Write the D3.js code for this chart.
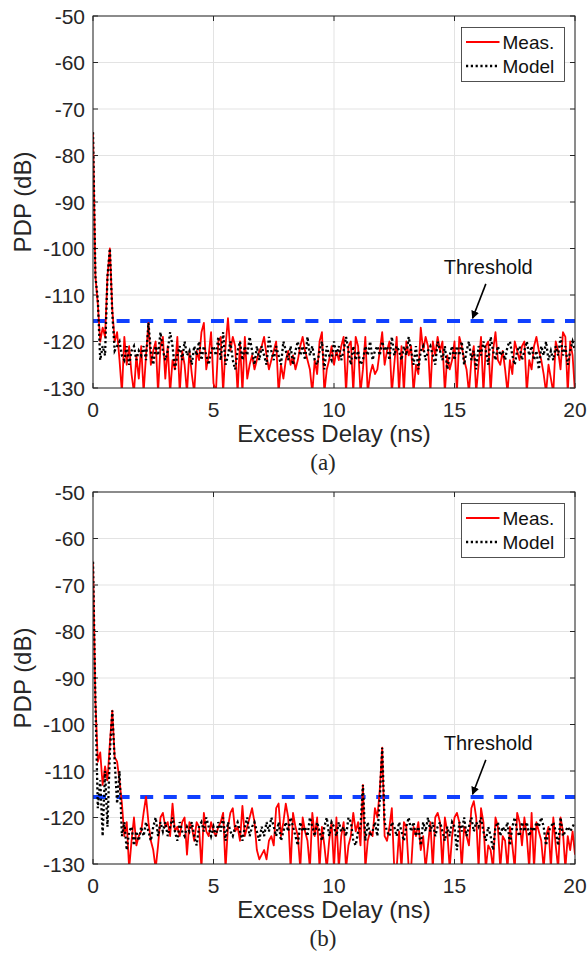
<!DOCTYPE html>
<html>
<head>
<meta charset="utf-8">
<script src="https://cdn.jsdelivr.net/npm/d3@7/dist/d3.min.js"></script>
<style>
  body { margin: 0; background: #fff; }
  svg { display: block; }
  text { font-family: "Liberation Sans", Arial, Helvetica, sans-serif; fill: #262626; }
</style>
</head>
<body>
<div id="chart"></div>
<script>
// delay axis: 0 .. 20 ns, one sample every 0.1 ns
const delayStep = 0.1;
const xTicks = [0, 5, 10, 15, 20];
const yTicks = [-50, -60, -70, -80, -90, -100, -110, -120, -130];
const threshold = -115.6;
const seriesNames = ["Meas.", "Model"];
const panelLabels = ["(a)", "(b)"];

// panel (a) measured PDP (dB), one row per ns
const measA = [
  -75,-106,-112,-120,-117,-119,-106,-100,-113,-120,
  -118,-124,-131,-119,-125,-121,-127,-131,-123,-128,
  -121,-131,-123,-116,-125,-122,-120,-131,-121,-119,
  -128,-121,-131,-124,-126,-119,-131,-122,-125,-131,
  -122,-127,-131,-122,-124,-118,-116,-126,-123,-118,
  -129,-131,-120,-119,-131,-121,-115,-122,-119,-121,
  -131,-120,-131,-119,-128,-125,-123,-126,-124,-122,
  -121,-119,-123,-126,-124,-122,-120,-131,-125,-128,
  -124,-122,-125,-123,-126,-124,-121,-119,-122,-124,
  -126,-131,-124,-127,-120,-118,-131,-126,-124,-121,
  -125,-122,-124,-121,-119,-131,-121,-120,-131,-119,
  -121,-131,-126,-119,-131,-127,-125,-127,-126,-122,
  -118,-125,-122,-120,-131,-125,-119,-131,-121,-131,
  -120,-123,-121,-131,-125,-127,-117,-122,-119,-121,
  -131,-120,-123,-119,-122,-120,-131,-123,-126,-124,
  -120,-131,-119,-121,-124,-126,-131,-124,-121,-131,
  -125,-119,-131,-121,-120,-131,-122,-118,-124,-125,
  -122,-126,-131,-124,-127,-120,-122,-124,-121,-120,
  -131,-124,-126,-121,-119,-122,-124,-127,-131,-125,
  -128,-131,-120,-122,-126,-118,-119,-131,-120,-123,
  -131
];

// panel (a) model PDP (dB)
const modelA = [
  -75,-106,-111,-124,-121,-123,-106,-100,-114,-122,
  -121,-120,-123,-124,-121,-125,-122,-121,-124,-122,
  -123,-121,-124,-116,-122,-125,-121,-123,-118,-122,
  -124,-122,-118,-121,-126,-123,-121,-124,-120,-123,
  -122,-125,-121,-123,-120,-124,-121,-123,-125,-122,
  -121,-123,-119,-124,-118,-125,-123,-120,-124,-126,
  -122,-120,-124,-121,-123,-119,-122,-125,-121,-124,
  -121,-123,-125,-119,-122,-124,-121,-123,-125,-120,
  -122,-124,-121,-125,-122,-120,-123,-121,-124,-119,
  -123,-121,-124,-125,-122,-120,-126,-121,-123,-124,
  -120,-123,-121,-124,-122,-119,-122,-125,-121,-124,
  -122,-125,-124,-121,-123,-120,-124,-122,-121,-123,
  -120,-122,-121,-124,-119,-123,-121,-122,-124,-121,
  -123,-119,-122,-125,-121,-126,-122,-121,-124,-122,
  -121,-123,-125,-120,-122,-124,-121,-126,-123,-121,
  -124,-121,-123,-120,-125,-122,-120,-124,-122,-126,
  -121,-123,-120,-122,-125,-119,-122,-124,-121,-123,
  -122,-124,-121,-120,-123,-125,-122,-121,-124,-122,
  -120,-123,-121,-124,-122,-126,-121,-123,-120,-124,
  -122,-124,-121,-123,-119,-123,-121,-125,-122,-120,
  -122
];

// panel (b) measured PDP (dB)
const measB = [
  -65,-95,-108,-106,-113,-109,-112,-104,-97,-107,
  -108,-112,-117,-124,-121,-131,-125,-120,-126,-124,
  -123,-119,-115.5,-121,-125,-127,-131,-126,-120,-119,
  -122,-121,-124,-117,-123,-122,-124,-121,-120,-128,
  -121,-122,-125,-121,-122,-131,-119,-123,-124,-121,
  -123,-124,-122,-121,-119,-131,-122,-119,-118,-123,
  -122,-125,-117.5,-124,-122,-120,-118,-121,-127,-129,
  -128,-127,-129,-125,-124,-126,-118,-117,-124,-121,
  -117,-120,-131,-119,-122,-124,-131,-120,-123,-125,
  -131,-119,-124,-120,-131,-122,-126,-131,-125,-121,
  -131,-120,-131,-124,-121,-131,-126,-124,-119,-123,
  -121,-126,-113,-131,-125,-123,-124,-118,-120,-114,
  -105,-124,-125,-122,-118,-131,-131,-123,-131,-121,
  -122,-131,-131,-122,-124,-121,-127,-124,-131,-126,
  -121,-131,-120,-119,-121,-131,-120,-123,-131,-124,
  -120,-119,-121,-131,-122,-124,-126,-118,-116.5,-120,
  -131,-118,-121,-131,-126,-127,-131,-120,-122,-131,
  -124,-125,-131,-122,-126,-131,-119,-121,-126,-120,
  -124,-131,-119,-131,-121,-123,-125,-131,-124,-122,
  -131,-120,-126,-131,-120,-123,-131,-124,-127,-123,
  -128
];

// panel (b) model PDP (dB)
const modelB = [
  -65,-95,-118,-112,-124,-110,-122,-106,-97,-108,
  -117,-110,-124,-121,-127,-123,-122,-126,-123,-125,
  -122,-124,-121,-123,-125,-122,-120,-124,-121,-123,
  -121,-124,-122,-120,-123,-125,-121,-123,-124,-122,
  -123,-121,-124,-126,-122,-121,-123,-120,-122,-124,
  -122,-124,-121,-123,-120,-125,-121,-123,-124,-122,
  -121,-123,-125,-122,-120,-124,-122,-121,-123,-125,
  -122,-124,-121,-123,-120,-122,-124,-121,-125,-123,
  -121,-123,-120,-122,-124,-126,-121,-123,-122,-124,
  -120,-122,-124,-121,-123,-125,-122,-120,-124,-121,
  -122,-124,-121,-123,-122,-124,-120,-121,-125,-126,
  -123,-122,-113,-125,-121,-124,-123,-121,-124,-116,
  -105,-121,-123,-124,-121,-122,-124,-121,-123,-125,
  -122,-120,-123,-121,-124,-122,-126,-121,-123,-120,
  -123,-121,-124,-122,-121,-123,-125,-122,-124,-121,
  -122,-127,-121,-123,-120,-124,-122,-120,-123,-121,
  -122,-120,-123,-125,-122,-124,-127,-122,-121,-124,
  -122,-123,-121,-126,-122,-120,-123,-124,-121,-123,
  -121,-124,-122,-123,-121,-122,-120,-122,-126,-123,
  -122,-121,-123,-126,-120,-124,-123,-122,-123,-122,
  -121
];

// "Threshold" note and its arrow, in data units [ns, dB]
const noteText = "Threshold";
const notePos = [16.4, -105.4];
const arrowFrom = [16.3, -107.6];
const arrowTo = [15.75, -115.0];

const W = 588, H = 954;
const left = 93, right = 575, plotH = 372;
const panelTops = [16, 492];

const svg = d3.select("#chart").append("svg")
    .attr("width", W).attr("height", H);

const defs = svg.append("defs");
defs.append("marker")
    .attr("id", "arrowHead")
    .attr("viewBox", "0 0 10 10")
    .attr("refX", 9).attr("refY", 5)
    .attr("markerWidth", 5).attr("markerHeight", 5)
    .attr("markerUnits", "strokeWidth")
    .attr("orient", "auto")
  .append("path")
    .attr("d", "M0,0 L10,5 L0,10 Z")
    .attr("fill", "#000");

const x = d3.scaleLinear().domain([0, 20]).range([left, right]);

function drawPanel(idx, meas, model) {
    const top = panelTops[idx];
    const y = d3.scaleLinear().domain([-130, -50]).range([top + plotH, top]);
    const g = svg.append("g");

    defs.append("clipPath").attr("id", "clip" + idx)
      .append("rect")
        .attr("x", left).attr("y", top)
        .attr("width", right - left).attr("height", plotH);

    // grid
    g.selectAll(".gx").data(xTicks).enter().append("line")
        .attr("x1", d => x(d)).attr("x2", d => x(d))
        .attr("y1", top).attr("y2", top + plotH)
        .attr("stroke", "#e3e3e3").attr("stroke-width", 1);
    g.selectAll(".gy").data(yTicks).enter().append("line")
        .attr("x1", left).attr("x2", right)
        .attr("y1", d => y(d)).attr("y2", d => y(d))
        .attr("stroke", "#e3e3e3").attr("stroke-width", 1);

    // inward ticks on all four sides
    const tl = 5;
    g.selectAll(".tb").data(xTicks).enter().append("path")
        .attr("d", d => `M${x(d)},${top + plotH}v${-tl}M${x(d)},${top}v${tl}`)
        .attr("stroke", "#262626");
    g.selectAll(".tl").data(yTicks).enter().append("path")
        .attr("d", d => `M${left},${y(d)}h${tl}M${right},${y(d)}h${-tl}`)
        .attr("stroke", "#262626");

    const plot = g.append("g").attr("clip-path", `url(#clip${idx})`);

    const line = d3.line()
        .x((d, i) => x(i * delayStep))
        .y(d => y(d));

    // threshold
    plot.append("line")
        .attr("x1", x(0)).attr("x2", x(20))
        .attr("y1", y(threshold)).attr("y2", y(threshold))
        .attr("stroke", "#1040ff").attr("stroke-width", 4)
        .attr("stroke-dasharray", "13,10.6");

    plot.append("path").datum(meas)
        .attr("d", line)
        .attr("fill", "none").attr("stroke", "#ff0000")
        .attr("stroke-width", 1.8).attr("stroke-linejoin", "round");

    plot.append("path").datum(model)
        .attr("d", line)
        .attr("fill", "none").attr("stroke", "#000")
        .attr("stroke-width", 2.3).attr("stroke-dasharray", "2.2,2.6");

    // box
    g.append("rect")
        .attr("x", left).attr("y", top)
        .attr("width", right - left).attr("height", plotH)
        .attr("fill", "none").attr("stroke", "#262626").attr("stroke-width", 1);

    // tick labels
    g.selectAll(".ly").data(yTicks).enter().append("text")
        .attr("x", left - 8).attr("y", d => y(d))
        .attr("dy", "0.36em")
        .attr("text-anchor", "end")
        .style("font-size", "21px")
        .text(d => d);
    g.selectAll(".lx").data(xTicks).enter().append("text")
        .attr("x", d => x(d)).attr("y", top + plotH + 29)
        .attr("text-anchor", "middle")
        .style("font-size", "21px")
        .text(d => d);

    // axis titles
    g.append("text")
        .attr("x", (left + right) / 2).attr("y", top + plotH + 54)
        .attr("text-anchor", "middle")
        .style("font-size", "24px")
        .text("Excess Delay (ns)");
    g.append("text")
        .attr("transform", `translate(31,${top + plotH / 2}) rotate(-90)`)
        .attr("text-anchor", "middle")
        .style("font-size", "24px")
        .text("PDP (dB)");
    g.append("text")
        .attr("x", (left + right) / 2 - 11).attr("y", top + plotH + 82)
        .attr("text-anchor", "middle")
        .style("font-family", "'Liberation Serif', 'Times New Roman', serif")
        .style("font-size", "23px")
        .text(panelLabels[idx]);

    // threshold note
    g.append("text")
        .attr("x", x(notePos[0])).attr("y", y(notePos[1]))
        .attr("text-anchor", "middle")
        .style("font-size", "20px")
        .style("fill", "#111")
        .text(noteText);
    g.append("line")
        .attr("x1", x(arrowFrom[0])).attr("y1", y(arrowFrom[1]))
        .attr("x2", x(arrowTo[0])).attr("y2", y(arrowTo[1]))
        .attr("stroke", "#000").attr("stroke-width", 1.6)
        .attr("marker-end", "url(#arrowHead)");

    // legend
    const lg = g.append("g").attr("transform", `translate(461.5,${top + 11.5})`);
    lg.append("rect")
        .attr("width", 103).attr("height", 54)
        .attr("fill", "#fff").attr("stroke", "#262626").attr("stroke-width", 0.8);
    const styles = [
        { stroke: "#ff0000", w: 1.8, dash: null },
        { stroke: "#000", w: 2.3, dash: "2.2,2.6" }
    ];
    seriesNames.forEach((name, i) => {
        const cy = 14.5 + i * 24;
        lg.append("line")
            .attr("x1", 4.5).attr("x2", 38)
            .attr("y1", cy).attr("y2", cy)
            .attr("stroke", styles[i].stroke)
            .attr("stroke-width", styles[i].w)
            .attr("stroke-dasharray", styles[i].dash);
        lg.append("text")
            .attr("x", 41).attr("y", cy)
            .attr("dy", "0.36em")
            .style("font-size", "19px")
            .style("fill", "#111")
            .text(name);
    });
}

drawPanel(0, measA, modelA);
drawPanel(1, measB, modelB);
</script>
</body>
</html>
